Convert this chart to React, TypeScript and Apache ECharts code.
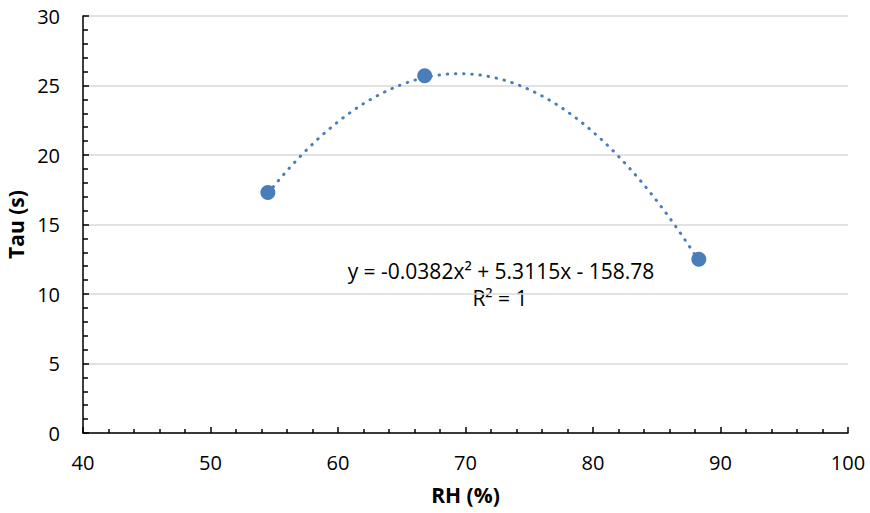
import React, { useEffect, useRef } from "react";
import * as echarts from "echarts";

const rhValues = [54.5, 66.8, 88.3];
const tauValues = [17.3, 25.7, 12.5];
// Polynomial trendline coefficients shown in the chart: a*x^2 + b*x + c
const trendCoef = [-0.0382, 5.3115, -158.78];
const equationText = "y = -0.0382x² + 5.3115x - 158.78";
const r2Text = "R² = 1";

const FONT = "Open Sans";
const BLUE = "#4a7ebb";

export default function App() {
  const ref = useRef<HTMLDivElement>(null);
  useEffect(() => {
    if (!ref.current) return;
    const chart = echarts.init(ref.current, null, { renderer: "svg" });
    const xs0 = rhValues[0];
    const xs1 = rhValues[rhValues.length - 1];
    const trend: number[][] = [];
    const n = 120;
    for (let i = 0; i <= n; i++) {
      const x = xs0 + ((xs1 - xs0) * i) / n;
      trend.push([x, trendCoef[0] * x * x + trendCoef[1] * x + trendCoef[2]]);
    }
    chart.setOption({
      animation: false,
      grid: { left: 83, right: 22, top: 16, bottom: 80, outerBoundsMode: "none", containLabel: false },
      xAxis: {
        type: "value",
        min: 40,
        max: 100,
        interval: 10,
        name: "RH (%)",
        nameLocation: "middle",
        nameGap: 51,
        nameTextStyle: { fontFamily: FONT, fontSize: 21, fontWeight: "bold", color: "#000" },
        axisLine: { lineStyle: { color: "#000", width: 1.5 } },
        axisTick: { inside: true, length: 6, lineStyle: { color: "#000", width: 1.5 } },
        minorTick: { show: true, splitNumber: 5, length: 4, lineStyle: { color: "#000", width: 1.5 } },
        axisLabel: { fontFamily: FONT, fontSize: 20, color: "#000", margin: 19 },
        splitLine: { show: false },
      },
      yAxis: {
        type: "value",
        min: 0,
        max: 30,
        interval: 5,
        name: "Tau (s)",
        nameLocation: "middle",
        nameGap: 53,
        nameTextStyle: { fontFamily: FONT, fontSize: 21, fontWeight: "bold", color: "#000" },
        axisLine: { show: true, lineStyle: { color: "#000", width: 1.5 } },
        axisTick: { show: true, inside: true, length: 6, lineStyle: { color: "#000", width: 1.5 } },
        minorTick: { show: true, splitNumber: 5, length: 5, lineStyle: { color: "#000", width: 1.5 } },
        axisLabel: { fontFamily: FONT, fontSize: 20, color: "#000", margin: 23 },
        splitLine: { show: true, lineStyle: { color: "#d9d9d9", width: 1.5 } },
      },
      series: [
        {
          type: "line",
          data: trend,
          showSymbol: false,
          symbol: "none",
          smooth: false,
          lineStyle: { color: BLUE, width: 3, type: [0.5, 7.7], cap: "round" },
          z: 2,
        },
        {
          type: "scatter",
          data: rhValues.map((x, i) => [x, tauValues[i]]),
          symbol: "circle",
          symbolSize: 15,
          itemStyle: { color: BLUE, opacity: 1 },
          z: 3,
        },
      ],
      graphic: [
        {
          type: "text",
          x: 501,
          y: 271,
          style: {
            text: equationText,
            fontFamily: FONT,
            fontSize: 21,
            fill: "#000",
            align: "center",
            verticalAlign: "middle",
          },
        },
        {
          type: "text",
          x: 500,
          y: 298,
          style: {
            text: r2Text,
            fontFamily: FONT,
            fontSize: 21,
            fill: "#000",
            align: "center",
            verticalAlign: "middle",
          },
        },
      ],
    });
    return () => chart.dispose();
  }, []);
  return (
    <div
      ref={ref}
      style={{ position: "fixed", left: 0, top: 0, width: 870, height: 513, background: "#fff" }}
    />
  );
}
